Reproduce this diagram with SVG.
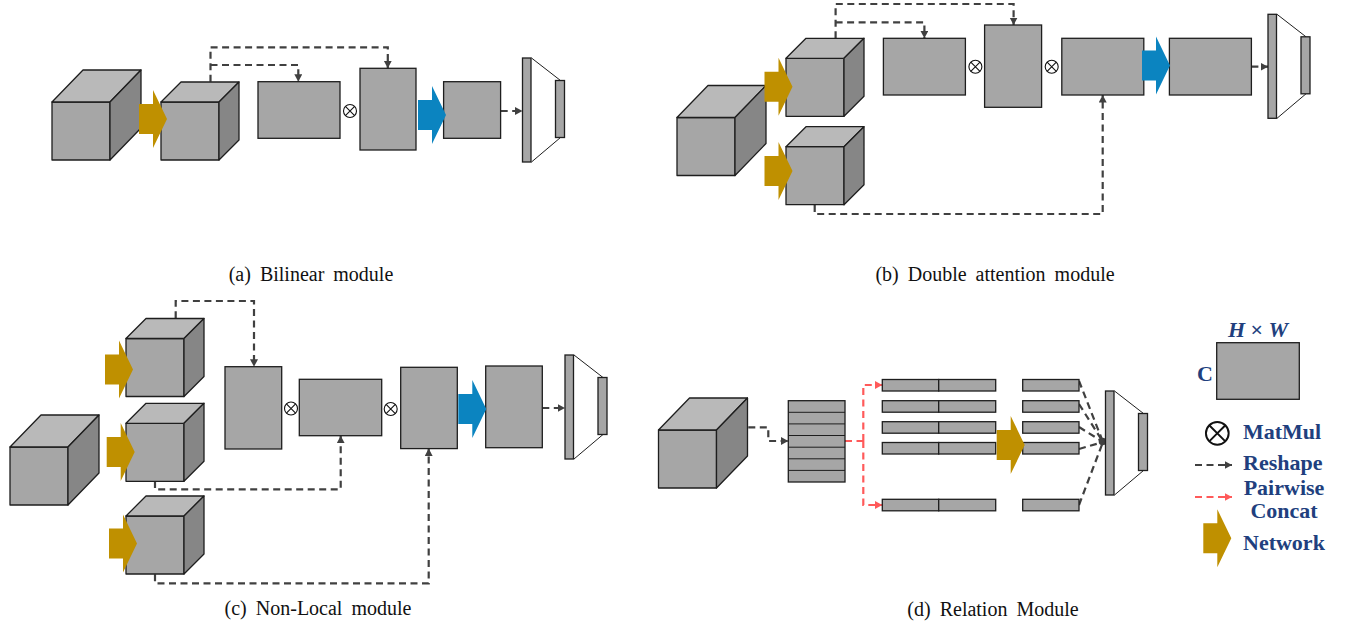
<svg xmlns="http://www.w3.org/2000/svg" xmlns:xlink="http://www.w3.org/1999/xlink" width="1348" height="623" viewBox="0 0 1348 623">
  <defs>
    <style>
      .front { fill: #a6a6a6; stroke: #1e1e1e; stroke-width: 1.3; stroke-linejoin: round; }
      .top   { fill: #b9b9b9; stroke: #1e1e1e; stroke-width: 1.3; stroke-linejoin: round; }
      .side  { fill: #868686; stroke: #1e1e1e; stroke-width: 1.3; stroke-linejoin: round; }
      .box   { fill: #a6a6a6; stroke: #1e1e1e; stroke-width: 1.3; }
      .thin  { fill: none; stroke: #1e1e1e; stroke-width: 1; }
      .dash  { fill: none; stroke: #404040; stroke-width: 2.2; stroke-dasharray: 7 4.5; }
      .dash-red { fill: none; stroke: #ff5a5a; stroke-width: 2.2; stroke-dasharray: 7 4.5; }
      .net   { fill: #bf9000; }
      .fuse  { fill: #0b84c0; }
      .op    { fill: #ffffff; stroke: #111111; stroke-width: 1.1; }
      .caption { font-family: "Liberation Serif", "Times New Roman", serif; font-size: 20px; fill: #111111; word-spacing: 4px; }
      .legend { font-family: "Liberation Serif", "Times New Roman", serif; font-size: 22px; font-weight: bold; fill: #213f7e; }
    </style>
    <marker id="head" markerUnits="userSpaceOnUse" markerWidth="9" markerHeight="9" refX="7.5" refY="4" orient="auto">
      <path d="M0,0 L7.5,4 L0,8 Z" fill="#404040"/>
    </marker>
    <marker id="head-red" markerUnits="userSpaceOnUse" markerWidth="9" markerHeight="9" refX="7.5" refY="4" orient="auto">
      <path d="M0,0 L7.5,4 L0,8 Z" fill="#ff5a5a"/>
    </marker>
    <!-- feature-map cubes, origin at the front face's top-left corner -->
    <g id="cube-large">
      <rect class="front" x="0" y="0" width="58" height="58"/>
      <polygon class="top" points="0,0 31,-32 89,-32 58,0"/>
      <polygon class="side" points="58,0 89,-32 89,26 58,58"/>
    </g>
    <g id="cube-small">
      <rect class="front" x="0" y="0" width="58" height="58"/>
      <polygon class="top" points="0,0 20,-20 78,-20 58,0"/>
      <polygon class="side" points="58,0 78,-20 78,38 58,58"/>
    </g>
    <!-- block arrow, origin at tail centre -->
    <path id="block-arrow" d="M0,-15 H14 V-29 L28,0 L14,29 V15 H0 Z"/>
    <!-- fully connected head: wide bar narrowing to a small bar -->
    <g id="fc">
      <path class="thin" d="M9,0 L38,22.5 M9,104 L38,79.5"/>
      <rect class="box" x="0" y="0" width="8.5" height="104"/>
      <rect class="box" x="33" y="22.5" width="9" height="57"/>
    </g>
    <g id="matmul">
      <circle class="op" cx="0" cy="0" r="6.5"/>
      <path d="M-4.6,-4.6 L4.6,4.6 M-4.6,4.6 L4.6,-4.6" stroke="#111111" stroke-width="1.1" fill="none"/>
    </g>
  </defs>

  <rect x="0" y="0" width="1348" height="623" fill="#ffffff"/>

  <!-- connectors -->
  <g id="connectors">
    <!-- (a) bilinear -->
    <path class="dash" d="M210.5,81.7 V47.3 H387.8 V68.3" marker-end="url(#head)"/>
    <path class="dash" d="M210.5,65 H298.3 V81.7" marker-end="url(#head)"/>
    <path class="dash" d="M500.7,111 H522.5" marker-end="url(#head)"/>
    <!-- (b) double attention -->
    <path class="dash" d="M835.6,38.3 V4 H1013.6 V25" marker-end="url(#head)"/>
    <path class="dash" d="M835.6,22.3 H924.4 V38.3" marker-end="url(#head)"/>
    <path class="dash" d="M814.7,205 V214 H1102.7 V95" marker-end="url(#head)"/>
    <path class="dash" d="M1251.4,66.7 H1268" marker-end="url(#head)"/>
    <!-- (c) non-local -->
    <path class="dash" d="M175.7,318.3 V301 H254 V366.7" marker-end="url(#head)"/>
    <path class="dash" d="M155,481 V489.3 H340.7 V435.7" marker-end="url(#head)"/>
    <path class="dash" d="M155,574.3 V583.3 H428.7 V448.6" marker-end="url(#head)"/>
    <path class="dash" d="M542.3,408 H565" marker-end="url(#head)"/>
    <!-- (d) relation -->
    <path class="dash" d="M748.3,427.3 H768.3 V441 H788.3" marker-end="url(#head)"/>
    <path class="dash-red" d="M845,441 H863.3"/>
    <path class="dash-red" d="M863.3,441 V385 H882.3" marker-end="url(#head-red)"/>
    <path class="dash-red" d="M863.3,441 V505 H882.3" marker-end="url(#head-red)"/>
    <path class="dash" d="M1079,381 L1103,442"/>
    <path class="dash" d="M1079,404 L1103,442"/>
    <path class="dash" d="M1079,427 L1103,442"/>
    <path class="dash" d="M1079,449 L1103,442"/>
    <path class="dash" d="M1079,505 L1103,442"/>
    <circle cx="1102.5" cy="441.5" r="3.8" fill="#404040"/>
  </g>

  <!-- (a) Bilinear module -->
  <g id="bilinear">
    <g id="a-input"><use href="#cube-large" x="52" y="102"/></g>
    <g id="a-feature"><use href="#cube-small" x="161" y="102"/></g>
    <g id="a-net"><use href="#block-arrow" class="net" transform="translate(139,119)"/></g>
    <g id="a-map1"><rect class="box" x="258" y="81.7" width="82" height="56.6"/></g>
    <g id="a-mul"><use href="#matmul" x="350" y="111"/></g>
    <g id="a-map2"><rect class="box" x="360" y="68.3" width="56" height="81.7"/></g>
    <g id="a-map3"><rect class="box" x="443.6" y="81.7" width="57" height="56.6"/></g>
    <g id="a-fuse"><use href="#block-arrow" class="fuse" transform="translate(418,115)"/></g>
    <g id="a-fc"><use href="#fc" x="522.5" y="58"/></g>
    <text class="caption" x="311" y="281" text-anchor="middle">(a) Bilinear module</text>
  </g>

  <!-- (b) Double attention module -->
  <g id="double-attention">
    <g id="b-input"><use href="#cube-large" x="677" y="117.5"/></g>
    <g id="b-feature1"><use href="#cube-small" x="786" y="58.3"/></g>
    <g id="b-feature2"><use href="#cube-small" x="786" y="146.7"/></g>
    <g id="b-net1"><use href="#block-arrow" class="net" transform="translate(764.5,86.7)"/></g>
    <g id="b-net2"><use href="#block-arrow" class="net" transform="translate(764.5,171)"/></g>
    <g id="b-map1"><rect class="box" x="883.4" y="38.3" width="82" height="56.7"/></g>
    <g id="b-mul1"><use href="#matmul" x="975.4" y="66.7"/></g>
    <g id="b-map2"><rect class="box" x="984.6" y="25" width="57" height="82.3"/></g>
    <g id="b-mul2"><use href="#matmul" x="1051.7" y="66.7"/></g>
    <g id="b-map3"><rect class="box" x="1061.8" y="38.3" width="82" height="56.7"/></g>
    <g id="b-map4"><rect class="box" x="1169.4" y="38.3" width="82" height="56.7"/></g>
    <g id="b-fuse"><use href="#block-arrow" class="fuse" transform="translate(1142,65.5)"/></g>
    <g id="b-fc"><use href="#fc" x="1268" y="14.3"/></g>
    <text class="caption" x="995" y="281" text-anchor="middle">(b) Double attention module</text>
  </g>

  <!-- (c) Non-Local module -->
  <g id="non-local">
    <g id="c-input"><use href="#cube-large" x="10" y="447"/></g>
    <g id="c-feature1"><use href="#cube-small" x="126" y="338.5"/></g>
    <g id="c-feature2"><use href="#cube-small" x="126" y="423.3"/></g>
    <g id="c-feature3"><use href="#cube-small" x="126" y="516"/></g>
    <g id="c-net1"><use href="#block-arrow" class="net" transform="translate(105,369.5)"/></g>
    <g id="c-net2"><use href="#block-arrow" class="net" transform="translate(106.7,452)"/></g>
    <g id="c-net3"><use href="#block-arrow" class="net" transform="translate(109,543.5)"/></g>
    <g id="c-map1"><rect class="box" x="225" y="366.7" width="56.7" height="82.3"/></g>
    <g id="c-mul1"><use href="#matmul" x="291" y="408.5"/></g>
    <g id="c-map2"><rect class="box" x="299.3" y="379.3" width="82.4" height="56.4"/></g>
    <g id="c-mul2"><use href="#matmul" x="390.7" y="409"/></g>
    <g id="c-map3"><rect class="box" x="400.7" y="367.3" width="56.6" height="81.3"/></g>
    <g id="c-map4"><rect class="box" x="485.7" y="366" width="56.6" height="81.7"/></g>
    <g id="c-fuse"><use href="#block-arrow" class="fuse" transform="translate(458.3,409)"/></g>
    <g id="c-fc"><use href="#fc" x="565" y="355"/></g>
    <text class="caption" x="318" y="615" text-anchor="middle">(c) Non-Local module</text>
  </g>

  <!-- (d) Relation Module -->
  <g id="relation">
    <g id="d-input"><use href="#cube-large" x="658.5" y="430"/></g>
    <g id="d-stack">
      <rect class="box" x="788.3" y="400.7" width="56.7" height="81.3"/>
      <path class="thin" stroke-width="1.3" d="M788.3,412.3 H845 M788.3,423.9 H845 M788.3,435.5 H845 M788.3,447.2 H845 M788.3,458.8 H845 M788.3,470.4 H845"/>
    </g>
    <g id="d-pairs">
      <rect class="box" x="882.3" y="379.5" width="56.4" height="11.5"/>
      <rect class="box" x="938.7" y="379.5" width="57" height="11.5"/>
      <rect class="box" x="882.3" y="400.7" width="56.4" height="11.5"/>
      <rect class="box" x="938.7" y="400.7" width="57" height="11.5"/>
      <rect class="box" x="882.3" y="421.7" width="56.4" height="11.5"/>
      <rect class="box" x="938.7" y="421.7" width="57" height="11.5"/>
      <rect class="box" x="882.3" y="442.5" width="56.4" height="11.5"/>
      <rect class="box" x="938.7" y="442.5" width="57" height="11.5"/>
      <rect class="box" x="882.3" y="499.3" width="56.4" height="11.5"/>
      <rect class="box" x="938.7" y="499.3" width="57" height="11.5"/>
    </g>
    <g id="d-relations">
      <rect class="box" x="1022.7" y="379.5" width="56.3" height="11.5"/>
      <rect class="box" x="1022.7" y="400.7" width="56.3" height="11.5"/>
      <rect class="box" x="1022.7" y="421.7" width="56.3" height="11.5"/>
      <rect class="box" x="1022.7" y="442.5" width="56.3" height="11.5"/>
      <rect class="box" x="1022.7" y="499.3" width="56.3" height="11.5"/>
    </g>
    <g id="d-net"><use href="#block-arrow" class="net" transform="translate(996.7,445)"/></g>
    <g id="d-fc"><use href="#fc" x="1105.5" y="391"/></g>
    <text class="caption" x="993" y="616" text-anchor="middle">(d) Relation Module</text>
  </g>

  <!-- legend -->
  <g id="legend">
    <g id="legend-map">
      <text class="legend" x="1258" y="336.5" text-anchor="middle" font-size="20"><tspan font-style="italic">H</tspan> × <tspan font-style="italic">W</tspan></text>
      <text class="legend" x="1197" y="381" font-size="21">C</text>
      <rect class="box" x="1216.7" y="342.7" width="82.6" height="56.6"/>
    </g>
    <g id="legend-matmul">
      <use href="#matmul" transform="translate(1217.3,433.3) scale(1.75)"/>
      <text class="legend" x="1243" y="438.5">MatMul</text>
    </g>
    <g id="legend-reshape">
      <path class="dash" d="M1195,465 H1232" marker-end="url(#head)"/>
      <text class="legend" x="1243" y="469.5">Reshape</text>
    </g>
    <g id="legend-concat">
      <path class="dash-red" d="M1195,497 H1232" marker-end="url(#head-red)"/>
      <text class="legend" text-anchor="middle" font-size="20"><tspan x="1284" y="495">Pairwise</tspan><tspan x="1284" y="517.5">Concat</tspan></text>
    </g>
    <g id="legend-network">
      <use href="#block-arrow" class="net" transform="translate(1203.3,538.3)"/>
      <text class="legend" x="1243" y="549.5">Network</text>
    </g>
  </g>
</svg>
